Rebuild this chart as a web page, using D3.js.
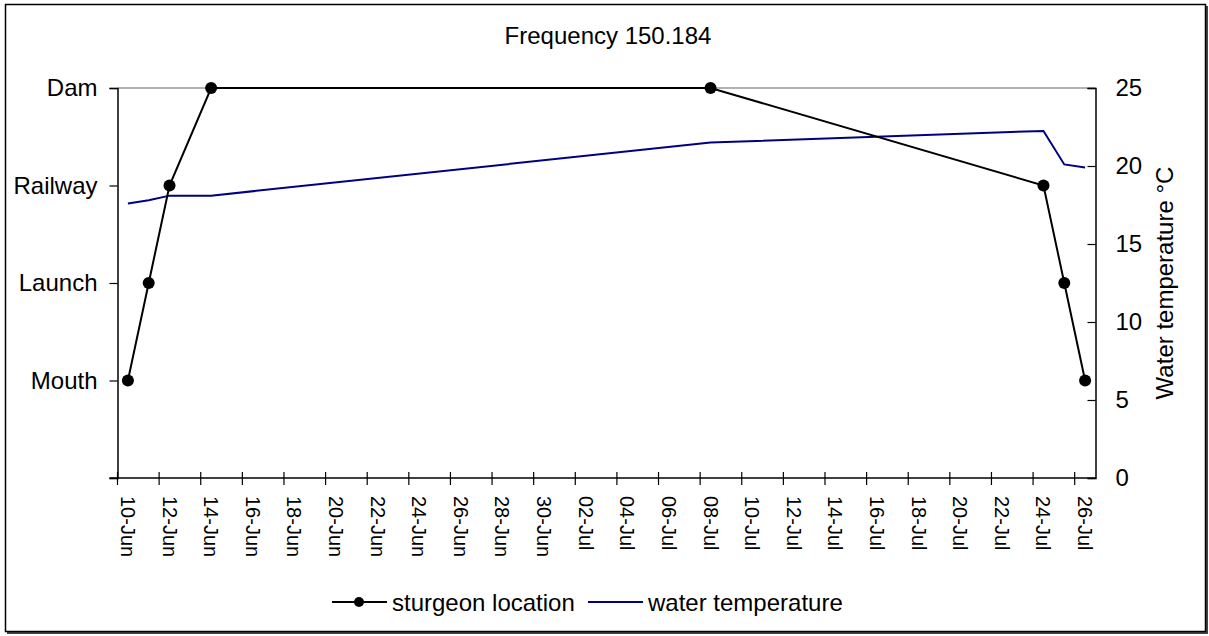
<!DOCTYPE html>
<html>
<head>
<meta charset="utf-8">
<script src="https://cdn.jsdelivr.net/npm/d3@7"></script>
<style>
  html, body { margin: 0; padding: 0; background: #fff; }
  svg { display: block; font-family: Arial, "Liberation Sans", sans-serif; }
</style>
</head>
<body>
<svg id="chart" width="1209" height="636"></svg>
<script>
const title = "Frequency 150.184";
const locationCategories = ["Mouth", "Launch", "Railway", "Dam"];
const obsDates = ["2005-06-10", "2005-06-11", "2005-06-12", "2005-06-14", "2005-07-08", "2005-07-24", "2005-07-25", "2005-07-26"];
const sturgeonLocation = ["Mouth", "Launch", "Railway", "Dam", "Dam", "Railway", "Launch", "Mouth"];
const waterTemperature = [17.6, 17.8, 18.1, 18.1, 21.5, 22.25, 20.1, 19.9];
const tempTicks = [0, 5, 10, 15, 20, 25];
const axisStart = "2005-06-10", axisEnd = "2005-07-27";
const seriesNames = ["sturgeon location", "water temperature"];
const rightTitle = "Water temperature °C";

const parse = d3.timeParse("%Y-%m-%d");
const fmt = d3.timeFormat("%d-%b");
const svg = d3.select("#chart");
const m = { left: 117.5, right: 1095.5, top: 88, bottom: 478 };
const FS = 24, FSD = 20;
const FONT = "Arial, 'Liberation Sans', sans-serif";

// outer frame
svg.append("rect").attr("x", 7).attr("y", 6).attr("width", 1201).attr("height", 628).attr("fill", "#444");
svg.append("rect").attr("x", 5.5).attr("y", 4.5).attr("width", 1200).attr("height", 627)
  .attr("fill", "#fff").attr("stroke", "#000").attr("stroke-width", 1.5);

const x = d3.scaleTime().domain([parse(axisStart), parse(axisEnd)]).range([m.left, m.right]);
const yL = d3.scaleLinear().domain([0, locationCategories.length]).range([m.bottom, m.top]);
const yR = d3.scaleLinear().domain([0, 25]).range([m.bottom, m.top]);
const mid = d => d3.timeHour.offset(d, 12);

// top gray line
svg.append("line").attr("x1", m.left).attr("x2", m.right).attr("y1", m.top).attr("y2", m.top)
  .attr("stroke", "#999").attr("stroke-width", 1.5);

// left axis
const leftAxis = d3.axisLeft(yL).tickValues([0, 1, 2, 3, 4])
  .tickFormat(v => v === 0 ? "" : locationCategories[v - 1]).tickSize(8).tickPadding(12);
const gL = svg.append("g").attr("transform", `translate(${m.left},0)`).call(leftAxis);
gL.select(".domain").attr("stroke", "#000").attr("stroke-width", 1.5);
gL.selectAll(".tick line").attr("stroke", "#000").attr("stroke-width", 1.2);
gL.selectAll("text").attr("font-size", FS).attr("fill", "#000").attr("font-family", FONT);

// right axis
const rightAxis = d3.axisRight(yR).tickValues(tempTicks).tickSize(-8).tickPadding(20);
const gR = svg.append("g").attr("transform", `translate(${m.right},0)`).call(rightAxis);
gR.select(".domain").attr("stroke", "#000").attr("stroke-width", 1.5);
gR.selectAll(".tick line").attr("stroke", "#000").attr("stroke-width", 1.2);
gR.selectAll("text").attr("font-size", FS).attr("fill", "#000").attr("font-family", FONT);

// bottom axis
const tickDates = d3.timeDay.range(parse(axisStart), parse(axisEnd), 2);
svg.append("line").attr("x1", m.left - 8).attr("x2", m.right).attr("y1", m.bottom).attr("y2", m.bottom)
  .attr("stroke", "#000").attr("stroke-width", 1.5);
const gX = svg.append("g");
gX.selectAll("line.t").data(tickDates).join("line").attr("class", "t")
  .attr("x1", d => x(d)).attr("x2", d => x(d)).attr("y1", m.bottom - 6).attr("y2", m.bottom + 7)
  .attr("stroke", "#000").attr("stroke-width", 1.2);
gX.selectAll("text").data(tickDates).join("text")
  .attr("transform", d => `translate(${x(mid(d))},${m.bottom + 18}) rotate(90)`)
  .attr("dominant-baseline", "central").attr("text-anchor", "start")
  .attr("font-size", FSD).attr("fill", "#000").text(d => fmt(d));

// data
const pts = obsDates.map((d, i) => ({ date: parse(d), loc: locationCategories.indexOf(sturgeonLocation[i]) + 1, temp: waterTemperature[i] }));

svg.append("path").datum(pts)
  .attr("d", d3.line().x(d => x(mid(d.date))).y(d => yR(d.temp)))
  .attr("fill", "none").attr("stroke", "#000080").attr("stroke-width", 2);

svg.append("path").datum(pts)
  .attr("d", d3.line().x(d => x(mid(d.date))).y(d => yL(d.loc)))
  .attr("fill", "none").attr("stroke", "#000").attr("stroke-width", 2);
svg.selectAll("circle.s").data(pts).join("circle").attr("class", "s")
  .attr("cx", d => x(mid(d.date))).attr("cy", d => yL(d.loc)).attr("r", 6).attr("fill", "#000");

// title
svg.append("text").attr("x", 608).attr("y", 44).attr("text-anchor", "middle")
  .attr("font-size", FS).attr("fill", "#000").text(title);

// right title
svg.append("text").attr("transform", `translate(1164,${(m.top + m.bottom) / 2}) rotate(-90)`)
  .attr("text-anchor", "middle").attr("dominant-baseline", "central")
  .attr("font-size", FS).attr("fill", "#000").text(rightTitle);

// legend
const lg = svg.append("g");
lg.append("line").attr("x1", 332).attr("x2", 387).attr("y1", 602).attr("y2", 602).attr("stroke", "#000").attr("stroke-width", 2);
lg.append("circle").attr("cx", 359).attr("cy", 602).attr("r", 5).attr("fill", "#000");
lg.append("text").attr("x", 392).attr("y", 602).attr("dominant-baseline", "central").attr("font-size", FS).text(seriesNames[0]);
lg.append("line").attr("x1", 588).attr("x2", 643).attr("y1", 602).attr("y2", 602).attr("stroke", "#000080").attr("stroke-width", 2);
lg.append("text").attr("x", 648).attr("y", 602).attr("dominant-baseline", "central").attr("font-size", FS).text(seriesNames[1]);
</script>
</body>
</html>
